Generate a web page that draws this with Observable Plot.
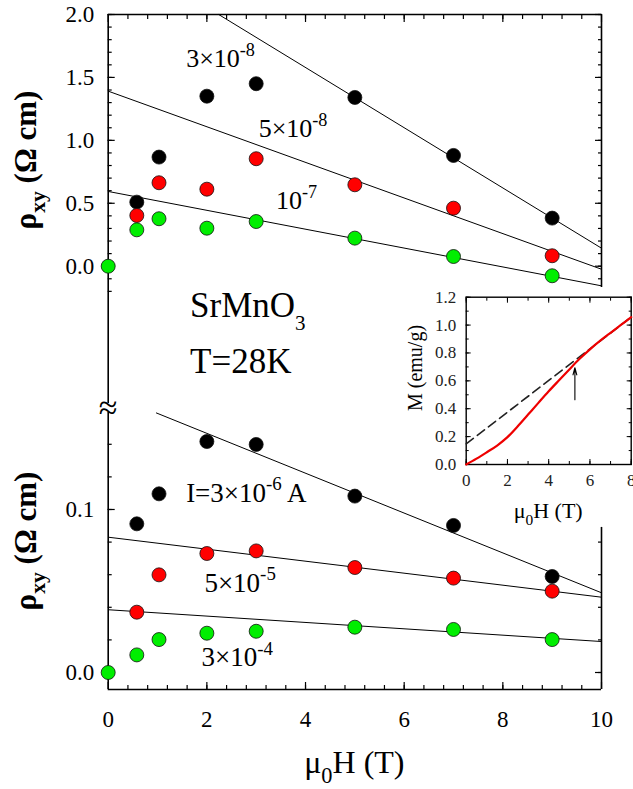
<!DOCTYPE html>
<html><head><meta charset="utf-8">
<script src="https://cdn.jsdelivr.net/npm/d3@7"></script>
<script src="https://cdn.jsdelivr.net/npm/@observablehq/plot@0.6"></script>
<style>
body{margin:0;background:#fff;}
#chart{position:relative;width:633px;height:789px;overflow:hidden;background:#fff;}
#chart svg{position:absolute;overflow:visible;font-family:"Liberation Serif","Times New Roman",serif;}
#chart svg text{font-family:"Liberation Serif","Times New Roman",serif;}
</style></head><body><div id="chart"></div>
<script>
// ---------- data ----------
const fieldT = [0.58, 1.03, 2, 3, 5, 7, 9];
const fieldGreen = [0, 0.58, 1.03, 2, 3, 5, 7, 9];
// upper panel (rho_xy, Ohm cm)
const topBlack = [0.509, 0.867, 1.351, 1.450, 1.341, 0.880, 0.382];
const topRed   = [0.403, 0.663, 0.612, 0.854, 0.647, 0.461, 0.083];
const topGreen = [0.000, 0.289, 0.377, 0.302, 0.355, 0.223, 0.077, -0.076];
// lower panel
const botBlack = [0.0912, 0.1096, 0.1417, 0.1399, 0.1082, 0.0902, 0.0589];
const botRed   = [0.0370, 0.0599, 0.0730, 0.0746, 0.0644, 0.0579, 0.0499];
const botGreen = [0.0000, 0.0108, 0.0202, 0.0241, 0.0253, 0.0278, 0.0264, 0.0202];
// linear fits: start / end points
const topFitX1 = [2.24, 0, 0],  topFitY1 = [2.0, 1.391, 0.594];
const topFitX2 = [10, 10, 10],  topFitY2 = [0.143, -0.024, -0.156];
const botFitX1 = [0.97, 0, 0],  botFitY1 = [0.1593, 0.0830, 0.0385];
const botFitX2 = [10, 10, 10],  botFitY2 = [0.0489, 0.0462, 0.0190];
// inset M(H)
const insetH = [0,0.5,1,1.5,2,2.5,3,3.5,4,4.5,5,5.5,6,6.5,7,7.5,8];
const insetM = [0,0.042,0.088,0.136,0.196,0.274,0.358,0.442,0.525,0.604,0.682,0.758,0.826,0.888,0.945,1.001,1.057];
const dashH = [0, 8], dashM = [0.148, 1.057];
const arrowH = 5.27, arrowM = [0.464, 0.694];
// labels
const topLabels = [
  {x: 1.59, y: 1.581, parts: [["3×10"], ["-8", "sup"]]},
  {x: 3.06, y: 1.020, parts: [["5×10"], ["-8", "sup"]]},
  {x: 3.41, y: 0.448, parts: [["10"], ["-7", "sup"]]}
];
const botLabels = [
  {x: 1.59, y: 0.1044, parts: [["I=3×10"], ["-6", "sup"], [" A"]]},
  {x: 1.96, y: 0.0493, parts: [["5×10"], ["-5", "sup"]]},
  {x: 1.90, y: 0.0037, parts: [["3×10"], ["-4", "sup"]]}
];
const sampleLabel = {x: 1.67, y: -0.408, parts: [["SrMnO"], ["3", "sub"]]};
const tempLabel = {x: 1.67, y: -0.853, parts: [["T=28K"]]};
// axis ticks
const xMajor = [0, 2, 4, 6, 8, 10];
const xMinor = d3.range(0.4, 10, 0.4);
const topYMajor = [0, 0.5, 1.0, 1.5, 2.0];
const topYMinorL = d3.range(-2, 21).map(v => v / 10);
const topYMinorR = d3.range(-1, 21).map(v => v / 10);
const botYMajor = [0, 0.1];
const botYMinorL = d3.range(0, 8).map(v => v / 50);
const botYMinorR = d3.range(0, 5).map(v => v / 50);
const insXMajor = [0, 2, 4, 6, 8];
const insXMinor = d3.range(0, 9);
const insYMajor = [0, 0.2, 0.4, 0.6, 0.8, 1.0, 1.2];
const insYMinor = d3.range(0, 13).map(v => v / 10);
// domains
const topY = [-1.091, 2.0], topRightBottom = -0.17;
const botY = [-0.01043, 0.1595], botRightTop = 0.089;
const breakY = [0.1623];

const FONT = '"Liberation Serif", "Times New Roman", serif';
const GREEN = "#00ee00", RED = "#ff0000";
const pts = (xs, ys) => xs.map((x, i) => ({x, y: ys[i]}));
const fits = (x1, y1, x2, y2) => x1.map((v, i) => ({x1: v, y1: y1[i], x2: x2[i], y2: y2[i]}));
const dotStyle = {x: "x", y: "y", r: 7, stroke: "#111", strokeWidth: 0.8};
const fmt1 = d3.format(".1f");

const chart = document.getElementById("chart");

function rich(svg, x, y, parts, {size, anchor = "start", weight = "normal", rotate = 0, small = 0.7, up = 0.42, down = 0.3}) {
  const t = d3.select(svg).append("text")
    .attr("font-family", FONT).attr("font-size", size).attr("font-weight", weight)
    .attr("text-anchor", anchor).attr("fill", "black");
  if (rotate) t.attr("transform", `translate(${x},${y}) rotate(${rotate})`);
  else t.attr("x", x).attr("y", y);
  let shift = 0;
  for (const [txt, kind] of parts) {
    const s = kind === "sub" ? down : kind === "sup" ? -up : 0;
    const ts = t.append("tspan").text(txt).attr("font-size", kind ? size * small : size);
    const dy = (s - shift) * size;
    if (dy) ts.attr("dy", dy);
    shift = s;
  }
  return t;
}
function place(svg, left, top) {
  svg.style.position = "absolute";
  svg.style.left = left + "px";
  svg.style.top = top + "px";
  chart.appendChild(svg);
}
const plotStyle = {background: "transparent", fontFamily: FONT, color: "black", overflow: "visible"};

// ---------- upper panel ----------
const topPlot = Plot.plot({
  width: 633, height: 410, marginLeft: 107.7, marginRight: 32, marginTop: 14, marginBottom: 7,
  x: {domain: [0, 10], axis: null, label: null},
  y: {domain: topY, axis: null, label: null},
  style: plotStyle,
  marks: [
    Plot.ruleX([0], {y1: topY[0], y2: topY[1], strokeWidth: 1.6}),
    Plot.ruleY([topY[1]], {x1: 0, x2: 10, strokeWidth: 1.6}),
    Plot.ruleX([10], {y1: topRightBottom, y2: topY[1], strokeWidth: 1.6}),
    Plot.axisY(topYMinorL, {anchor: "left", tickSize: -4, fill: "none", label: null, strokeWidth: 1.2}),
    Plot.axisY(topYMajor, {anchor: "left", tickSize: -7, fill: "none", label: null, strokeWidth: 1.2}),
    Plot.axisY(topYMajor, {anchor: "left", tickSize: 0, tickPadding: 14, tickFormat: fmt1, fontSize: 23, fontFamily: FONT, label: null}),
    Plot.axisY(topYMinorR, {anchor: "right", tickSize: -4, fill: "none", label: null, strokeWidth: 1.2}),
    Plot.axisY(topYMajor, {anchor: "right", tickSize: -7, fill: "none", label: null, strokeWidth: 1.2}),
    Plot.axisX(xMinor, {anchor: "top", tickSize: -4, fill: "none", label: null, strokeWidth: 1.2}),
    Plot.axisX(xMajor, {anchor: "top", tickSize: -7, fill: "none", label: null, strokeWidth: 1.2}),
    Plot.link(fits(topFitX1, topFitY1, topFitX2, topFitY2), {x1: "x1", y1: "y1", x2: "x2", y2: "y2", stroke: "black", strokeWidth: 1}),
    Plot.dot(pts(fieldT, topBlack), {...dotStyle, fill: "black"}),
    Plot.dot(pts(fieldT, topRed), {...dotStyle, fill: RED}),
    Plot.dot(pts(fieldGreen, topGreen), {...dotStyle, fill: GREEN})
  ]
});
place(topPlot, 0, 0);
{
  const sx = topPlot.scale("x"), sy = topPlot.scale("y");
  for (const l of topLabels) rich(topPlot, sx.apply(l.x), sy.apply(l.y), l.parts, {size: 26});
  rich(topPlot, sx.apply(sampleLabel.x), sy.apply(sampleLabel.y), sampleLabel.parts, {size: 35, small: 0.6, down: 0.36});
  rich(topPlot, sx.apply(tempLabel.x), sy.apply(tempLabel.y), tempLabel.parts, {size: 35});
  rich(topPlot, 36, 160, [["ρ"], ["xy", "sub"], [" (Ω cm)"]], {size: 31, anchor: "middle", weight: "bold", rotate: -90, down: 0.28});
}

// ---------- lower panel ----------
const botPlot = Plot.plot({
  width: 633, height: 389, marginLeft: 107.7, marginRight: 32, marginTop: 12, marginBottom: 100,
  x: {domain: [0, 10], axis: null, label: null},
  y: {domain: botY, axis: null, label: null},
  style: plotStyle,
  marks: [
    Plot.ruleX([0], {y1: botY[0], y2: botY[1], strokeWidth: 1.6}),
    Plot.ruleY([botY[0]], {x1: 0, x2: 10, strokeWidth: 1.6}),
    Plot.ruleX([10], {y1: botY[0], y2: botRightTop, strokeWidth: 1.6}),
    Plot.text(breakY, {x: 0, y: d => d, text: () => "≈", fontSize: 34, fontFamily: FONT, lineAnchor: "middle", textAnchor: "middle", fill: "black"}),
    Plot.axisY(botYMinorL, {anchor: "left", tickSize: -4, fill: "none", label: null, strokeWidth: 1.2}),
    Plot.axisY(botYMajor, {anchor: "left", tickSize: -7, fill: "none", label: null, strokeWidth: 1.2}),
    Plot.axisY(botYMajor, {anchor: "left", tickSize: 0, tickPadding: 14, tickFormat: fmt1, fontSize: 23, fontFamily: FONT, label: null}),
    Plot.axisY(botYMinorR, {anchor: "right", tickSize: -4, fill: "none", label: null, strokeWidth: 1.2}),
    Plot.axisY([0], {anchor: "right", tickSize: -7, fill: "none", label: null, strokeWidth: 1.2}),
    Plot.axisX(xMinor, {anchor: "bottom", tickSize: -4, fill: "none", label: null, strokeWidth: 1.2}),
    Plot.axisX(xMajor, {anchor: "bottom", tickSize: -7, fill: "none", label: null, strokeWidth: 1.2}),
    Plot.axisX(xMajor, {anchor: "bottom", tickSize: 0, tickPadding: 21, fontSize: 23, fontFamily: FONT, label: null}),
    Plot.link(fits(botFitX1, botFitY1, botFitX2, botFitY2), {x1: "x1", y1: "y1", x2: "x2", y2: "y2", stroke: "black", strokeWidth: 1}),
    Plot.dot(pts(fieldT, botBlack), {...dotStyle, fill: "black"}),
    Plot.dot(pts(fieldT, botRed), {...dotStyle, fill: RED}),
    Plot.dot(pts(fieldGreen, botGreen), {...dotStyle, fill: GREEN})
  ]
});
place(botPlot, 0, 400);
{
  const sx = botPlot.scale("x"), sy = botPlot.scale("y");
  for (const l of botLabels) rich(botPlot, sx.apply(l.x), sy.apply(l.y), l.parts, {size: 27});
  rich(botPlot, 36, 141, [["ρ"], ["xy", "sub"], [" (Ω cm)"]], {size: 31, anchor: "middle", weight: "bold", rotate: -90, down: 0.28});
  rich(botPlot, sx.apply(5), 373, [["μ"], ["0", "sub"], ["H (T)"]], {size: 32, anchor: "middle"});
}

// ---------- inset ----------
const insPlot = Plot.plot({
  width: 253, height: 260, marginLeft: 85.7, marginRight: 2.3, marginTop: 16.7, marginBottom: 76,
  x: {domain: [0, 8], axis: null, label: null},
  y: {domain: [0, 1.2], axis: null, label: null},
  style: plotStyle,
  marks: [
    Plot.frame({stroke: "black", strokeWidth: 1.4}),
    Plot.axisY(insYMinor, {anchor: "left", tickSize: -3, fill: "none", label: null}),
    Plot.axisY(insYMajor, {anchor: "left", tickSize: -5, fill: "none", label: null}),
    Plot.axisY(insYMajor, {anchor: "left", tickSize: 0, tickPadding: 10, tickFormat: fmt1, fontSize: 17, fontFamily: FONT, label: null, fill: "#222"}),
    Plot.axisY(insYMinor, {anchor: "right", tickSize: -3, fill: "none", label: null}),
    Plot.axisY(insYMajor, {anchor: "right", tickSize: -5, fill: "none", label: null}),
    Plot.axisX(insXMinor, {anchor: "bottom", tickSize: -3, fill: "none", label: null}),
    Plot.axisX(insXMajor, {anchor: "bottom", tickSize: -5, fill: "none", label: null}),
    Plot.axisX(insXMajor, {anchor: "bottom", tickSize: 0, tickPadding: 9, fontSize: 17, fontFamily: FONT, label: null, fill: "#222"}),
    Plot.axisX(insXMinor, {anchor: "top", tickSize: -3, fill: "none", label: null}),
    Plot.axisX(insXMajor, {anchor: "top", tickSize: -5, fill: "none", label: null}),
    Plot.line(pts(dashH, dashM), {x: "x", y: "y", stroke: "#222", strokeWidth: 1.6, strokeDasharray: "9,5"}),
    Plot.line(pts(insetH, insetM), {x: "x", y: "y", stroke: "#ee0000", strokeWidth: 2.2, curve: "catmull-rom"}),
    Plot.arrow([{x: arrowH, y1: arrowM[0], y2: arrowM[1]}], {x: "x", y1: "y1", y2: "y2", stroke: "black", strokeWidth: 1.1, headLength: 10, headAngle: 30})
  ]
});
place(insPlot, 380, 280);
{
  const sx = insPlot.scale("x");
  rich(insPlot, 42, 88, [["M (emu/g)"]], {size: 20, anchor: "middle", rotate: -90});
  rich(insPlot, sx.apply(4), 238, [["μ"], ["0", "sub"], ["H (T)"]], {size: 22, anchor: "middle"});
}
</script></body></html>
